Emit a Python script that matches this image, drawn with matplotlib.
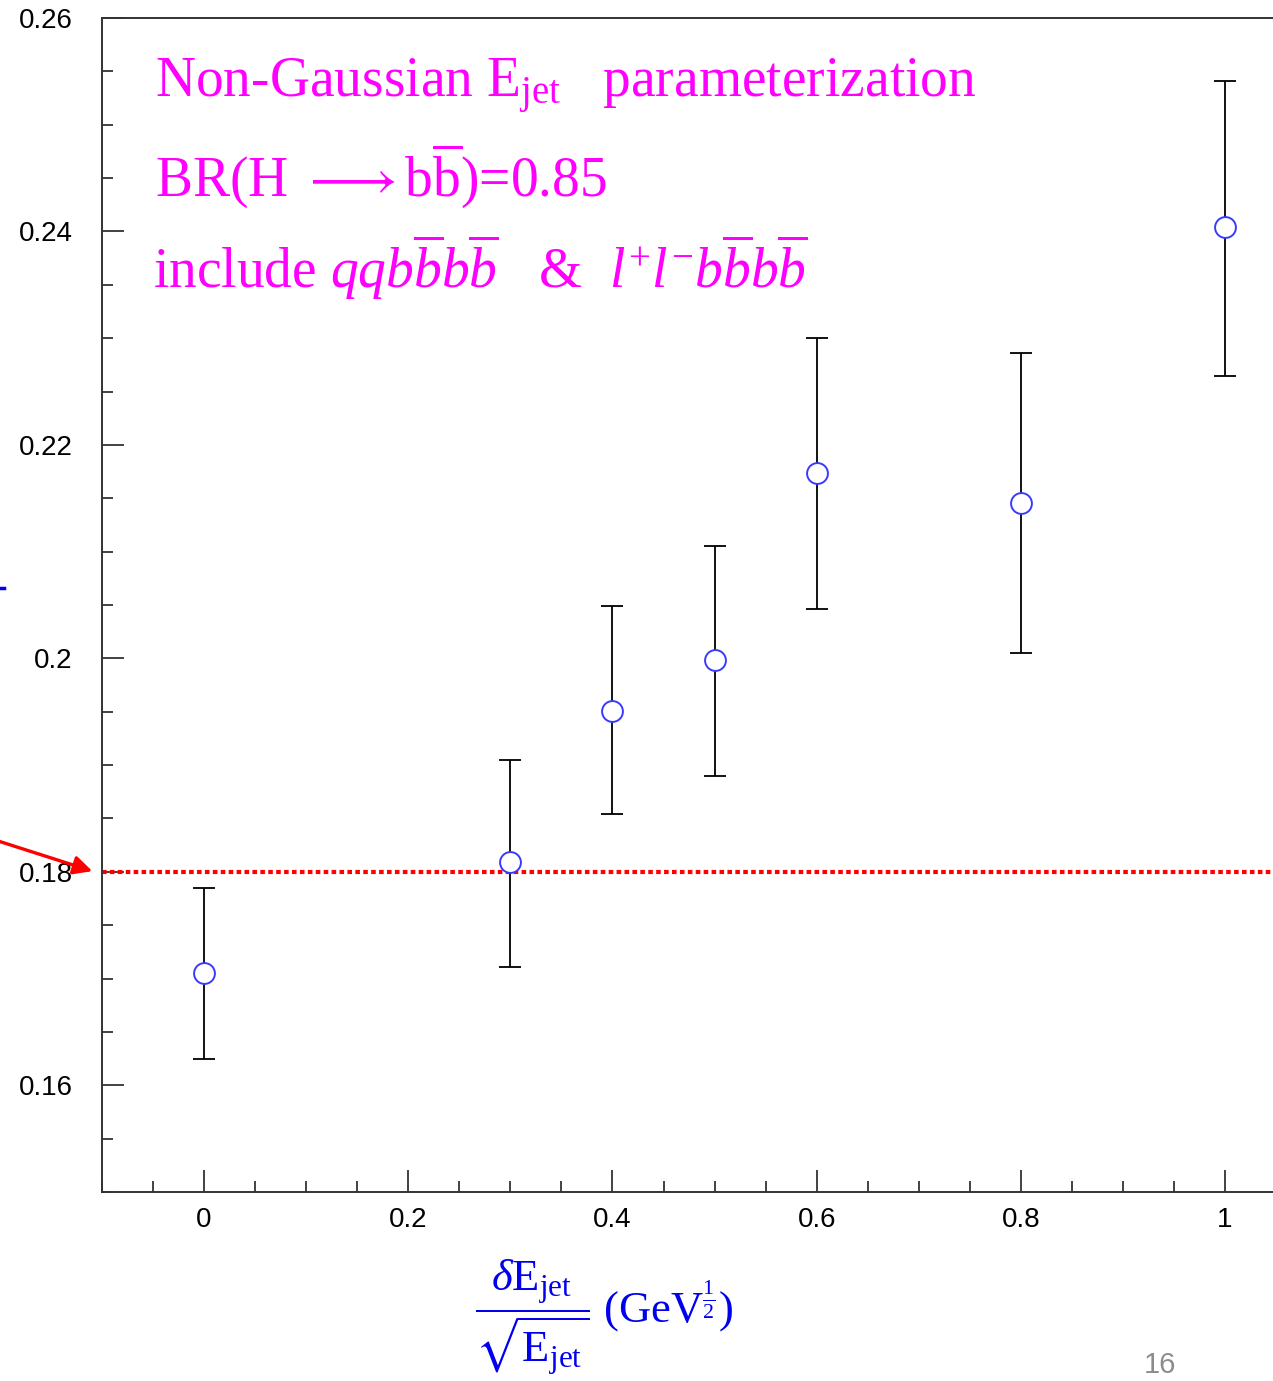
import matplotlib
matplotlib.use("Agg")
import matplotlib.pyplot as plt
from matplotlib.ticker import MultipleLocator
from matplotlib.lines import Line2D

plt.rcParams['font.family'] = 'Liberation Sans'
plt.rcParams['mathtext.fontset'] = 'custom'
plt.rcParams['mathtext.rm'] = 'Liberation Serif'
plt.rcParams['mathtext.it'] = 'Liberation Serif:italic'
plt.rcParams['mathtext.bf'] = 'Liberation Serif:bold'
plt.rcParams['mathtext.fallback'] = 'stix'

# resolution points (delta E / sqrt(E)) and fitted values with errors
res = [0.0, 0.3, 0.4, 0.5, 0.6, 0.8, 1.0]
val = [0.1705, 0.1809, 0.1951, 0.1998, 0.2174, 0.2146, 0.2404]
err_up = [0.1785, 0.1905, 0.2049, 0.2105, 0.2300, 0.2286, 0.2541]
err_lo = [0.1625, 0.1711, 0.1854, 0.1890, 0.2046, 0.2005, 0.2265]
ref_line = 0.18

yerr = [[v - lo for v, lo in zip(val, err_lo)],
        [hi - v for v, hi in zip(val, err_up)]]

fig = plt.figure(figsize=(12.73, 13.81), dpi=100)
ax = fig.add_axes([102/1273, 1-1192/1381, 1-102/1273, (1192-18)/1381])

ax.axhline(ref_line, color='red', lw=3, ls=(0, (1.1, 0.8)), zorder=2)
ax.errorbar(res, val, yerr=yerr, fmt='none', ecolor='black', elinewidth=1.3,
            capsize=8, capthick=1.3, zorder=3)
ax.plot(res, val, 'o', ms=15, mfc='white', mec='#3a3aff', mew=1.4, zorder=4)

ax.set_xlim(-0.1, 1.047)
ax.set_ylim(0.15, 0.26)
ax.xaxis.set_minor_locator(MultipleLocator(0.05))
ax.yaxis.set_minor_locator(MultipleLocator(0.005))
ax.set_xticks([0, 0.2, 0.4, 0.6, 0.8, 1.0])
ax.set_xticklabels(['0', '0.2', '0.4', '0.6', '0.8', '1'])
ax.set_yticks([0.16, 0.18, 0.2, 0.22, 0.24, 0.26])
ax.set_yticklabels(['0.16', '0.18', '0.2', '0.22', '0.24', '0.26'])
ax.tick_params(which='both', direction='in', color='#333333', width=1.3,
               top=False, right=False)
ax.tick_params(which='major', length=16, labelsize=20)
ax.tick_params(which='minor', length=8)
ax.tick_params(axis='y', pad=21)
ax.tick_params(axis='x', pad=11)
ax.spines['right'].set_visible(False)
for s in ['left', 'bottom', 'top']:
    ax.spines[s].set_color('#333333')
    ax.spines[s].set_linewidth(1.4)

mag = '#ff00ff'
fig.text(155/1273, 1-97/1381, r'Non-Gaussian E$_{\mathrm{jet}}$   parameterization',
         color=mag, fontsize=40, family='Liberation Serif', va='baseline')
fig.text(155/1273, 1-197/1381, r'BR(H $\longrightarrow$b$\overline{\mathrm{b}}$)=0.85',
         color=mag, fontsize=40, family='Liberation Serif', va='baseline')
fig.text(153/1273, 1-288/1381,
         r'include $qqb\overline{b}b\overline{b}$   &  $l^{+}l^{-}b\overline{b}b\overline{b}$',
         color=mag, fontsize=40, family='Liberation Serif', va='baseline')

fig.text(604/1273, 1-1318/1381,
         r'$\dfrac{\delta\mathrm{E}_{\mathrm{jet}}}{\sqrt{\mathrm{E}_{\mathrm{jet}}}}$ (GeV$^{\frac{1}{2}}$)',
         color='#0000ee', fontsize=32, family='Liberation Serif', ha='center', va='center')

fig.text(1160/1273, 1-1365/1381, '16', color='#8c8c8c', fontsize=21, ha='center', va='center')

ax.annotate('', xy=(95, 1381-872), xycoords='figure pixels',
            xytext=(-5, 1381-840), textcoords='figure pixels',
            arrowprops=dict(arrowstyle='-|>', color='red', lw=2.4, mutation_scale=28),
            annotation_clip=False)
fig.add_artist(Line2D([0, 4/1273], [1-588/1381, 1-588/1381], color='#0000ee', lw=2.5))

fig.savefig('out.png', dpi=100)
